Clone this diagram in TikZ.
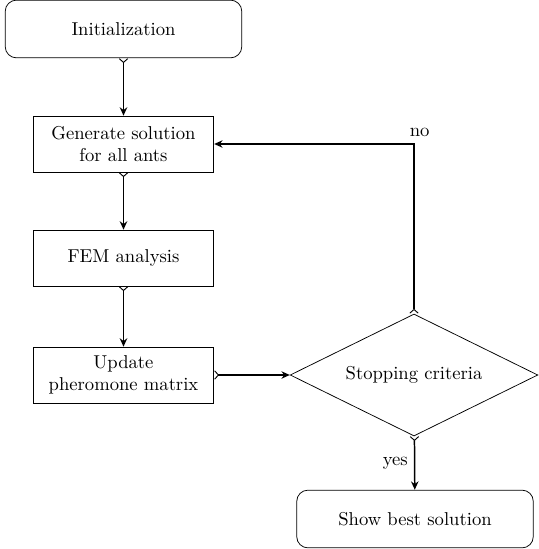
\documentclass[tikz,border=0pt]{standalone}
\usetikzlibrary{shapes.geometric,arrows.meta}
\begin{document}
\begin{tikzpicture}[
  x=0.537pt, y=-0.537pt,
  every node/.style={font=\normalsize},
  startstop/.style={draw, rounded corners=6pt, minimum width=127pt, minimum height=31pt, align=center},
  process/.style={draw, minimum width=97pt, minimum height=30pt, align=center},
  decision/.style={draw, diamond, aspect=2.03, minimum width=133pt, minimum height=65.5pt, inner sep=0pt},
  flow/.style={{Straight Barb[reversed,length=2pt,width=4.5pt,line width=0.5pt]}-{Stealth[length=4.5pt,width=4pt]}, thick}
]
\useasboundingbox (0,0) rectangle (538,549);
\node[startstop] (init) at (123.5,29) {Initialization};
\node[process] (gen) at (123.5,144) {Generate solution\\for all ants};
\node[process] (fem) at (123.5,258) {FEM analysis};
\node[process] (upd) at (123.5,375) {Update\\pheromone matrix};
\node[decision] (stop) at (414,375) {Stopping criteria};
\node[startstop] (best) at (415,519) {Show best solution};

\draw[flow] (init) -- (gen);
\draw[flow] (gen) -- (fem);
\draw[flow] (fem) -- (upd);
\draw[flow] (upd) -- (stop);
\draw[flow] (stop) -- node[left] {yes} (best);
\draw[flow] (stop) |- node[pos=0.5, above, xshift=3pt] {no} (gen);
\end{tikzpicture}
\end{document}
